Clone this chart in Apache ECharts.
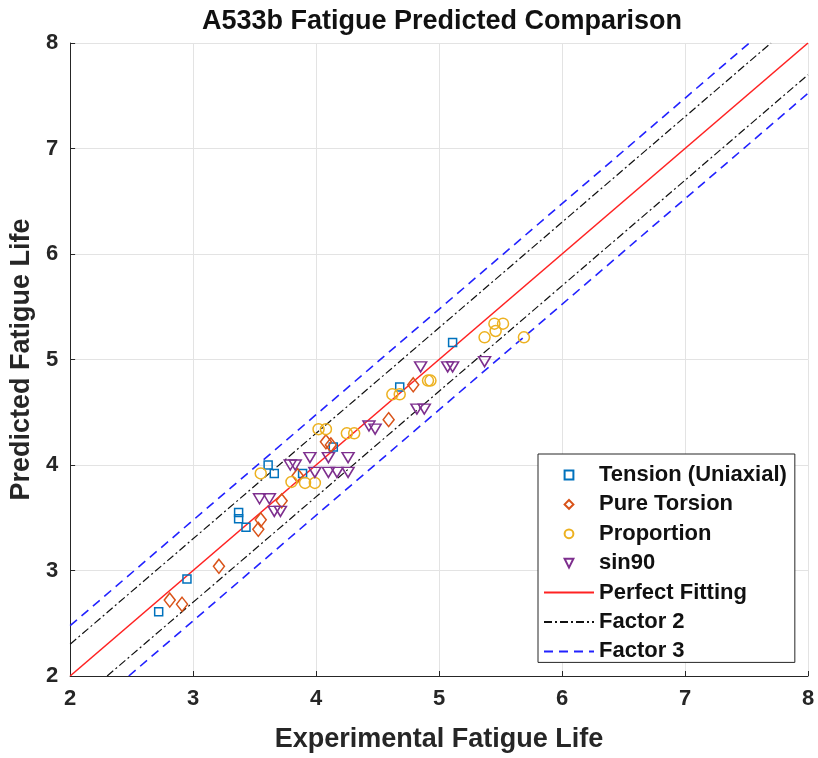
<!DOCTYPE html>
<html>
<head>
<meta charset="utf-8">
<script src="https://cdn.jsdelivr.net/npm/echarts@6/dist/echarts.min.js"></script>
<style>
html,body{margin:0;padding:0;background:#fff;}
#chart{width:818px;height:758px;}
</style>
</head>
<body>
<div id="chart"></div>
<script>
// ---- Data ----
const tensionX = [2.72, 2.95, 3.37, 3.37, 3.43, 3.61, 3.66, 3.89, 4.14, 4.68, 5.11];
const tensionY = [2.61, 2.92, 3.55, 3.49, 3.41, 4.00, 3.92, 3.92, 4.17, 4.74, 5.16];

const torsionX = [2.81, 2.91, 3.21, 3.53, 3.55, 3.72, 3.85, 4.08, 4.12, 4.59, 4.79];
const torsionY = [2.72, 2.68, 3.04, 3.39, 3.48, 3.66, 3.90, 4.22, 4.19, 4.43, 4.76];

const proportionX = [3.55, 3.80, 3.91, 3.99, 4.02, 4.08, 4.25, 4.31, 4.62, 4.68, 4.91, 4.93, 5.37, 5.45, 5.52, 5.46, 5.69];
const proportionY = [3.92, 3.84, 3.83, 3.83, 4.34, 4.34, 4.30, 4.30, 4.67, 4.67, 4.80, 4.80, 5.21, 5.34, 5.34, 5.27, 5.21];

const sin90X = [3.54, 3.62, 3.66, 3.71, 3.79, 3.83, 3.95, 4.10, 4.26, 3.99, 4.10, 4.17, 4.26, 4.43, 4.48, 4.82, 4.88, 4.85, 5.07, 5.11, 5.37];
const sin90Y = [3.68, 3.68, 3.56, 3.56, 4.00, 4.00, 4.07, 4.07, 4.07, 3.93, 3.93, 3.93, 3.93, 4.37, 4.34, 4.53, 4.53, 4.93, 4.93, 4.93, 4.98];

// reference lines: endpoints [x, y]
const perfectLine = [[2, 2], [8, 8]];
const factor2Upper = [[2, 2.301], [7.699, 8]];
const factor2Lower = [[2.301, 2], [8, 7.699]];
const factor3Upper = [[2, 2.477], [7.523, 8]];
const factor3Lower = [[2.477, 2], [8, 7.523]];

const axisTicks = [2, 3, 4, 5, 6, 7, 8];
const seriesNames = ['Tension (Uniaxial)', 'Pure Torsion', 'Proportion', 'sin90', 'Perfect Fitting', 'Factor 2', 'Factor 3'];

function pairs(xs, ys) { return xs.map((x, i) => [x, ys[i]]); }

const FONT = '"Liberation Sans", Arial, Helvetica, sans-serif';
const TXT = '#262626';

function markerSeries(name, xs, ys, symbol, size, color, rotate) {
  return {
    name: name,
    type: 'line',
    data: pairs(xs, ys),
    symbol: symbol,
    symbolSize: size,
    symbolRotate: rotate || 0,
    showSymbol: true,
    lineStyle: { width: 0, opacity: 0 },
    itemStyle: { color: 'rgba(0,0,0,0)', borderColor: color, borderWidth: 1.5 },
    emphasis: { disabled: true },
    z: 5
  };
}
function refLine(name, data, color, type, width) {
  return {
    name: name,
    type: 'line',
    data: data,
    showSymbol: false,
    symbol: 'circle',
    symbolSize: 0,
    lineStyle: { color: color, type: type, width: width },
    itemStyle: { color: 'rgba(0,0,0,0)', borderColor: 'rgba(0,0,0,0)', borderWidth: 0 },
    emphasis: { disabled: true },
    z: 3
  };
}

const dashDot = [8, 3, 2, 3];
const dashed = [9, 6];

const series = [
  markerSeries(seriesNames[0], tensionX, tensionY, 'rect', 8, '#0072BD'),
  markerSeries(seriesNames[1], torsionX, torsionY, 'diamond', [11, 14], '#D95319'),
  markerSeries(seriesNames[2], proportionX, proportionY, 'circle', 11, '#EDB120'),
  markerSeries(seriesNames[3], sin90X, sin90Y, 'triangle', [12, 10], '#7E2F8E', 180),
  refLine(seriesNames[4], perfectLine, '#ff2222', 'solid', 1.6),
  refLine(seriesNames[5], factor2Upper, '#111111', dashDot, 1.2),
  refLine(seriesNames[5], factor2Lower, '#111111', dashDot, 1.2),
  refLine(seriesNames[6], factor3Upper, '#2222ff', dashed, 1.6),
  refLine(seriesNames[6], factor3Lower, '#2222ff', dashed, 1.6)
];

const axisCommon = {
  type: 'value',
  min: axisTicks[0],
  max: axisTicks[axisTicks.length - 1],
  interval: 1,
  axisLine: { show: true, lineStyle: { color: TXT, width: 1 } },
  axisTick: { show: true, inside: true, length: 5, lineStyle: { color: TXT } },
  splitLine: { show: true, lineStyle: { color: '#e3e3e3', width: 1 } },
  axisLabel: { color: TXT, fontSize: 22, fontWeight: 'bold', fontFamily: FONT },
  nameTextStyle: { color: TXT, fontSize: 27, fontWeight: 'bold', fontFamily: FONT },
  nameLocation: 'middle'
};

const option = {
  animation: false,
  backgroundColor: '#fff',
  title: {
    text: 'A533b Fatigue Predicted Comparison',
    left: 437,
    top: 3,
    textAlign: 'center',
    textStyle: { color: '#111', fontSize: 27, fontWeight: 'bold', fontFamily: FONT }
  },
  grid: { left: 67, right: 10, top: 43, bottom: 81, containLabel: false },
  xAxis: Object.assign({}, axisCommon, {
    name: 'Experimental Fatigue Life',
    nameGap: 50,
    axisLabel: Object.assign({}, axisCommon.axisLabel, { margin: 12 })
  }),
  yAxis: Object.assign({}, axisCommon, {
    name: 'Predicted Fatigue Life',
    nameGap: 29,
    axisLabel: Object.assign({}, axisCommon.axisLabel, { margin: 12 })
  }),
  legend: {
    data: seriesNames,
    left: 538,
    top: 454,
    orient: 'vertical',
    itemWidth: 50,
    itemHeight: 11,
    itemGap: 7.4,
    padding: [10, 8, 0, 5],
    borderColor: TXT,
    borderWidth: 1,
    backgroundColor: '#fff',
    selectedMode: false,
    textStyle: { color: '#111', fontSize: 22, fontWeight: 'bold', fontFamily: FONT }
  },
  series: series
};

const chart = echarts.init(document.getElementById('chart'), null, { renderer: 'canvas' });
chart.setOption(option);
</script>
</body>
</html>
